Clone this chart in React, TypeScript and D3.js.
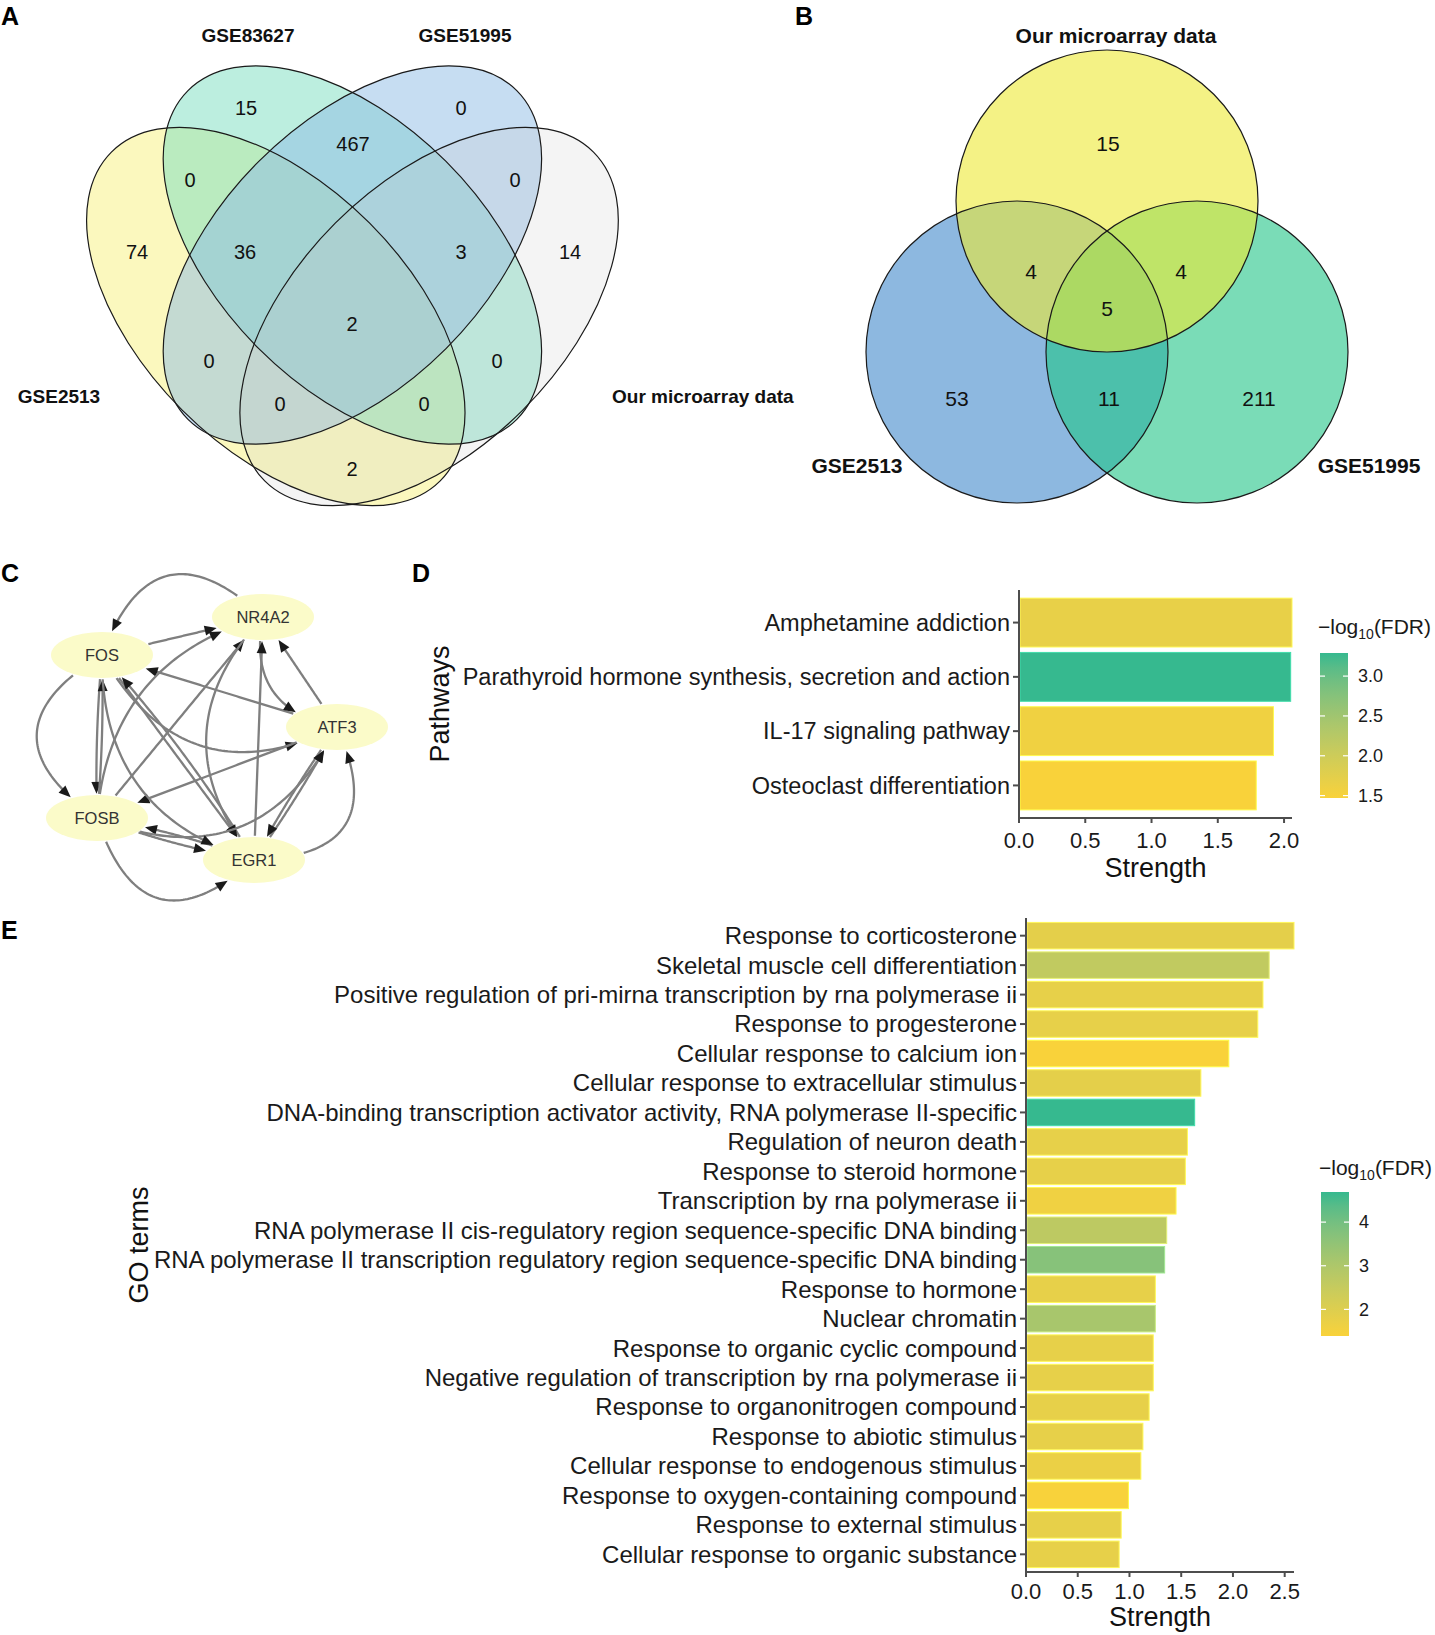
import { useRef, useEffect } from 'react';
import * as d3 from 'd3';

const FONT = "'Liberation Sans', Arial, sans-serif";

// ---- Panel A: four-set Venn ----
const vennASets = ['GSE2513', 'GSE83627', 'GSE51995', 'Our microarray data'];
const vennARegions = ['1000', '0100', '0010', '0001', '1100', '0110', '0011', '1110', '0111', '1111', '1010', '0101', '1011', '1101', '1001'];
const vennACounts = [74, 15, 0, 14, 0, 467, 0, 36, 3, 2, 0, 0, 0, 0, 2];

// ---- Panel B: three-set Venn ----
const vennBSets = ['Our microarray data', 'GSE2513', 'GSE51995'];
const vennBRegions = ['100', '110', '101', '111', '010', '011', '001'];
const vennBCounts = [15, 4, 4, 5, 53, 11, 211];

// ---- Panel C: regulatory network ----
const geneNodes = ['NR4A2', 'FOS', 'ATF3', 'FOSB', 'EGR1'];
const geneEdges: [string, string][] = [
  ['NR4A2', 'FOS'], ['FOS', 'NR4A2'], ['FOS', 'FOSB'], ['FOS', 'FOSB'], ['FOSB', 'FOS'],
  ['ATF3', 'FOS'], ['ATF3', 'NR4A2'], ['NR4A2', 'ATF3'], ['EGR1', 'NR4A2'], ['FOSB', 'NR4A2'],
  ['FOSB', 'NR4A2'], ['FOS', 'ATF3'], ['ATF3', 'FOSB'], ['FOS', 'EGR1'], ['EGR1', 'FOS'],
  ['NR4A2', 'EGR1'], ['EGR1', 'ATF3'], ['ATF3', 'EGR1'], ['EGR1', 'ATF3'], ['FOSB', 'EGR1'],
  ['EGR1', 'FOSB'], ['FOSB', 'EGR1'], ['FOSB', 'ATF3'], ['FOS', 'EGR1'],
];

// ---- Panel D: pathways ----
const pathwayTerms = [
  'Amphetamine addiction',
  'Parathyroid hormone synthesis, secretion and action',
  'IL-17 signaling pathway',
  'Osteoclast differentiation',
];
const pathwayStrength = [2.06, 2.05, 1.92, 1.79];
const pathwayFdr = [1.68, 3.29, 1.58, 1.47];
const pathwayTicks = [0, 0.5, 1, 1.5, 2];
const pathwayLegendTicks = [1.5, 2, 2.5, 3];

// ---- Panel E: GO terms ----
const goTerms = [
  'Response to corticosterone',
  'Skeletal muscle cell differentiation',
  'Positive regulation of pri-mirna transcription by rna polymerase ii',
  'Response to progesterone',
  'Cellular response to calcium ion',
  'Cellular response to extracellular stimulus',
  'DNA-binding transcription activator activity, RNA polymerase II-specific',
  'Regulation of neuron death',
  'Response to steroid hormone',
  'Transcription by rna polymerase ii',
  'RNA polymerase II cis-regulatory region sequence-specific DNA binding',
  'RNA polymerase II transcription regulatory region sequence-specific DNA binding',
  'Response to hormone',
  'Nuclear chromatin',
  'Response to organic cyclic compound',
  'Negative regulation of transcription by rna polymerase ii',
  'Response to organonitrogen compound',
  'Response to abiotic stimulus',
  'Cellular response to endogenous stimulus',
  'Response to oxygen-containing compound',
  'Response to external stimulus',
  'Cellular response to organic substance',
];
const goStrength = [2.59, 2.35, 2.29, 2.24, 1.96, 1.69, 1.63, 1.56, 1.54, 1.45, 1.36, 1.34, 1.25, 1.25, 1.23, 1.23, 1.19, 1.13, 1.11, 0.99, 0.92, 0.9];
const goFdr = [1.85, 2.6, 1.8, 1.8, 1.39, 1.85, 4.69, 1.8, 1.8, 1.6, 2.7, 3.7, 1.8, 3.1, 1.8, 1.8, 1.8, 1.8, 1.7, 1.42, 1.8, 1.8];
const goTicks = [0, 0.5, 1, 1.5, 2, 2.5];
const goLegendTicks = [2, 3, 4];

// layout (pixels)
const vennALayout = {
  rx: 232.5,
  ry: 132.4,
  shapes: [
    { cx: 275.8, cy: 316.5, rot: 45, fill: '#F7F17D', op: 0.5 },
    { cx: 352.4, cy: 255, rot: 45, fill: '#79DDBF', op: 0.5 },
    { cx: 352.4, cy: 255, rot: -45, fill: '#8DBBE5', op: 0.5 },
    { cx: 429.1, cy: 316.5, rot: -45, fill: '#C8C8C8', op: 0.2 },
  ],
  setLabels: [
    { x: 59, y: 403, anchor: 'middle' },
    { x: 248, y: 42, anchor: 'middle' },
    { x: 465, y: 42, anchor: 'middle' },
    { x: 612, y: 403, anchor: 'start' },
  ],
  counts: {
    '1000': [137, 252], '0100': [246, 108], '0010': [461, 108], '0001': [570, 252],
    '1100': [190, 180], '0110': [353, 144], '0011': [515, 180], '1110': [245, 252],
    '0111': [461, 252], '1111': [352, 324], '1010': [209, 361], '0101': [497, 361],
    '1011': [280, 404], '1101': [424, 404], '1001': [352, 469],
  } as Record<string, number[]>,
};

const vennBLayout = {
  r: 151,
  shapes: [
    { cx: 1107, cy: 201, fill: '#EDE934' },
    { cx: 1017, cy: 352, fill: '#4189CB' },
    { cx: 1197, cy: 352, fill: '#21C587' },
  ],
  drawOrder: [1, 2, 0],
  setLabels: [
    { x: 1116, y: 43 },
    { x: 857, y: 473 },
    { x: 1369, y: 473 },
  ],
  counts: {
    '100': [1108, 143], '110': [1031, 271], '101': [1181, 271], '111': [1107, 308],
    '010': [957, 398], '011': [1109, 398], '001': [1259, 398],
  } as Record<string, number[]>,
};

const nodePos: Record<string, number[]> = {
  NR4A2: [263, 617], FOS: [102, 655], ATF3: [337, 727], FOSB: [97, 818], EGR1: [254, 860],
};
const edgeBend = [0.75, 0, 0.77, 0.03, 0.03, 0, 0, 0.5, 0, 0, -0.35, 0.47, 0, 0, 0.05, 0.43, 0.03, 0.03, 0.75, 0.05, 0.05, 0.76, 0.46, 0.38];

const LOW = '#F9D23A';
const HIGH = '#36B98F';

type G = d3.Selection<SVGGElement, unknown, null, undefined>;

function panelLetter(g: G, letter: string, x: number, y: number) {
  g.append('text').attr('x', x).attr('y', y).attr('font-family', FONT)
    .attr('font-size', 25).attr('font-weight', 700).attr('fill', '#000').text(letter);
}

function drawVennA(g: G) {
  const L = vennALayout;
  L.shapes.forEach((s) => {
    g.append('ellipse').attr('cx', 0).attr('cy', 0).attr('rx', L.rx).attr('ry', L.ry)
      .attr('transform', `translate(${s.cx},${s.cy}) rotate(${s.rot})`)
      .attr('fill', s.fill).attr('fill-opacity', s.op).attr('stroke', 'none');
  });
  L.shapes.forEach((s) => {
    g.append('ellipse').attr('cx', 0).attr('cy', 0).attr('rx', L.rx).attr('ry', L.ry)
      .attr('transform', `translate(${s.cx},${s.cy}) rotate(${s.rot})`)
      .attr('fill', 'none').attr('stroke', '#1a1a1a').attr('stroke-width', 1.2);
  });
  vennASets.forEach((name, i) => {
    const p = L.setLabels[i];
    g.append('text').attr('x', p.x).attr('y', p.y).attr('text-anchor', p.anchor)
      .attr('font-family', FONT).attr('font-size', 19).attr('font-weight', 700)
      .attr('fill', '#111').text(name);
  });
  vennARegions.forEach((key, i) => {
    const [x, y] = L.counts[key];
    g.append('text').attr('x', x).attr('y', y).attr('dy', '0.36em').attr('text-anchor', 'middle')
      .attr('font-family', FONT).attr('font-size', 20).attr('fill', '#111').text(vennACounts[i]);
  });
}

function drawVennB(g: G) {
  const L = vennBLayout;
  L.drawOrder.forEach((i) => {
    const s = L.shapes[i];
    g.append('circle').attr('cx', s.cx).attr('cy', s.cy).attr('r', L.r)
      .attr('fill', s.fill).attr('fill-opacity', 0.6);
  });
  L.shapes.forEach((s) => {
    g.append('circle').attr('cx', s.cx).attr('cy', s.cy).attr('r', L.r)
      .attr('fill', 'none').attr('stroke', '#1a1a1a').attr('stroke-width', 1.2);
  });
  vennBSets.forEach((name, i) => {
    const p = L.setLabels[i];
    g.append('text').attr('x', p.x).attr('y', p.y).attr('text-anchor', 'middle')
      .attr('font-family', FONT).attr('font-size', 21).attr('font-weight', 700)
      .attr('fill', '#111').text(name);
  });
  vennBRegions.forEach((key, i) => {
    const [x, y] = L.counts[key];
    g.append('text').attr('x', x).attr('y', y).attr('dy', '0.36em').attr('text-anchor', 'middle')
      .attr('font-family', FONT).attr('font-size', 21).attr('fill', '#111').text(vennBCounts[i]);
  });
}

function drawNetwork(g: G) {
  const rx = 51;
  const ry = 23;
  const inside = (p: number[], c: number[], pad: number) =>
    ((p[0] - c[0]) / (rx + pad)) ** 2 + ((p[1] - c[1]) / (ry + pad)) ** 2 < 1;

  const line = d3.line<number[]>().x((d) => d[0]).y((d) => d[1]);
  const edgeLayer = g.append('g');

  geneEdges.forEach(([s, t], i) => {
    const p0 = nodePos[s];
    const p2 = nodePos[t];
    const dx = p2[0] - p0[0];
    const dy = p2[1] - p0[1];
    const len = Math.hypot(dx, dy);
    const b = edgeBend[i] ?? 0;
    const c = [(p0[0] + p2[0]) / 2 - (dy / len) * b * len, (p0[1] + p2[1]) / 2 + (dx / len) * b * len];
    const at = (u: number) => [
      (1 - u) ** 2 * p0[0] + 2 * (1 - u) * u * c[0] + u * u * p2[0],
      (1 - u) ** 2 * p0[1] + 2 * (1 - u) * u * c[1] + u * u * p2[1],
    ];
    let t0 = 0;
    while (t0 < 1 && inside(at(t0), p0, 1)) t0 += 0.002;
    let t1 = 1;
    while (t1 > 0 && inside(at(t1), p2, 1)) t1 -= 0.002;
    const tip = at(t1);
    const prev = at(t1 - 0.02);
    const ux = tip[0] - prev[0];
    const uy = tip[1] - prev[1];
    const ul = Math.hypot(ux, uy) || 1;
    const dirx = ux / ul;
    const diry = uy / ul;
    const alen = 12;
    const aw = 5;
    // stop the line inside the arrowhead
    const pts: number[][] = [];
    const n = 60;
    for (let k = 0; k <= n; k++) {
      const p = at(t0 + ((t1 - t0) * k) / n);
      if (Math.hypot(p[0] - tip[0], p[1] - tip[1]) < alen - 3) break;
      pts.push(p);
    }
    edgeLayer.append('path').attr('d', line(pts)).attr('fill', 'none')
      .attr('stroke', '#7f7f7f').attr('stroke-width', 2.3);
    const base = [tip[0] - dirx * alen, tip[1] - diry * alen];
    edgeLayer.append('path')
      .attr('d', `M${tip[0]},${tip[1]}L${base[0] - diry * aw},${base[1] + dirx * aw}L${base[0] + diry * aw},${base[1] - dirx * aw}Z`)
      .attr('fill', '#1a1a1a');
  });

  geneNodes.forEach((name) => {
    const [x, y] = nodePos[name];
    g.append('ellipse').attr('cx', x).attr('cy', y).attr('rx', rx).attr('ry', ry).attr('fill', '#FBFBC9');
    g.append('text').attr('x', x).attr('y', y).attr('dy', '0.36em').attr('text-anchor', 'middle')
      .attr('font-family', FONT).attr('font-size', 16.5).attr('fill', '#333').text(name);
  });
}

interface BarOpts {
  id: string;
  terms: string[];
  values: number[];
  fdr: number[];
  ticks: number[];
  legendTicks: number[];
  legendFmt: (v: number) => string;
  x0: number;
  x1: number;
  y0: number;
  y1: number;
  labelSize: number;
  tickSize: number;
  tickBaseline: number;
  titleBaseline: number;
  yTitle: string;
  yTitleX: number;
  legend: { x: number; y0: number; y1: number; titleY: number };
}

function drawBars(g: G, o: BarOpts) {
  const x = d3.scaleLinear().domain([0, d3.max(o.values)!]).range([o.x0, o.x1]);
  const y = d3.scaleBand<string>().domain(o.terms).range([o.y0, o.y1]).paddingInner(0.1).paddingOuter(0.15);
  const fdrExtent = d3.extent(o.fdr) as [number, number];
  const color = d3.scaleLinear<string>().domain(fdrExtent).range([LOW, HIGH]).interpolate(d3.interpolateLab);
  const axisColor = '#4d4d4d';

  // bars
  o.terms.forEach((term, i) => {
    const fill = color(o.fdr[i]);
    g.append('rect').attr('x', x(0) + 1).attr('y', y(term)!)
      .attr('width', x(o.values[i]) - x(0) - 1).attr('height', y.bandwidth())
      .attr('fill', fill).attr('stroke', d3.color(fill)!.brighter(0.5).formatHex()).attr('stroke-width', 1);
  });

  // y axis
  g.append('line').attr('x1', o.x0).attr('x2', o.x0).attr('y1', o.y0).attr('y2', o.y1)
    .attr('stroke', axisColor).attr('stroke-width', 2);
  o.terms.forEach((term) => {
    const cy = y(term)! + y.bandwidth() / 2;
    g.append('line').attr('x1', o.x0 - 6).attr('x2', o.x0).attr('y1', cy).attr('y2', cy)
      .attr('stroke', axisColor).attr('stroke-width', 2);
    g.append('text').attr('x', o.x0 - 9).attr('y', cy).attr('dy', '0.35em').attr('text-anchor', 'end')
      .attr('font-family', FONT).attr('font-size', o.labelSize).attr('fill', '#1a1a1a').text(term);
  });

  // x axis
  g.append('line').attr('x1', o.x0).attr('x2', o.x1).attr('y1', o.y1).attr('y2', o.y1)
    .attr('stroke', axisColor).attr('stroke-width', 2);
  o.ticks.forEach((t) => {
    g.append('line').attr('x1', x(t)).attr('x2', x(t)).attr('y1', o.y1).attr('y2', o.y1 + 5)
      .attr('stroke', axisColor).attr('stroke-width', 2);
    g.append('text').attr('x', x(t)).attr('y', o.tickBaseline).attr('text-anchor', 'middle')
      .attr('font-family', FONT).attr('font-size', o.tickSize).attr('fill', '#1a1a1a').text(d3.format('.1f')(t));
  });
  g.append('text').attr('x', (o.x0 + o.x1) / 2).attr('y', o.titleBaseline).attr('text-anchor', 'middle')
    .attr('font-family', FONT).attr('font-size', 27).attr('fill', '#111').text('Strength');

  // y title
  const midY = (o.y0 + o.y1) / 2;
  g.append('text').attr('transform', `translate(${o.yTitleX},${midY}) rotate(-90)`).attr('dy', '0.35em')
    .attr('text-anchor', 'middle').attr('font-family', FONT).attr('font-size', 27).attr('fill', '#111')
    .text(o.yTitle);

  // colour bar legend
  const L = o.legend;
  const lw = 28;
  const ly = d3.scaleLinear().domain(fdrExtent).range([L.y1, L.y0]);
  const grad = g.append('defs').append('linearGradient').attr('id', o.id)
    .attr('x1', 0).attr('y1', 1).attr('x2', 0).attr('y2', 0);
  d3.range(0, 1.0001, 0.1).forEach((s) => {
    grad.append('stop').attr('offset', s)
      .attr('stop-color', color(fdrExtent[0] + s * (fdrExtent[1] - fdrExtent[0])));
  });
  g.append('rect').attr('x', L.x).attr('y', L.y0).attr('width', lw).attr('height', L.y1 - L.y0)
    .attr('fill', `url(#${o.id})`);
  o.legendTicks.forEach((t) => {
    const ty = ly(t);
    g.append('line').attr('x1', L.x).attr('x2', L.x + 5).attr('y1', ty).attr('y2', ty)
      .attr('stroke', '#fff').attr('stroke-width', 1.2);
    g.append('line').attr('x1', L.x + lw - 5).attr('x2', L.x + lw).attr('y1', ty).attr('y2', ty)
      .attr('stroke', '#fff').attr('stroke-width', 1.2);
    g.append('text').attr('x', L.x + lw + 10).attr('y', ty).attr('dy', '0.35em')
      .attr('font-family', FONT).attr('font-size', 18).attr('fill', '#1a1a1a').text(o.legendFmt(t));
  });
  const title = g.append('text').attr('x', L.x - 2).attr('y', L.titleY)
    .attr('font-family', FONT).attr('font-size', 21).attr('fill', '#1a1a1a');
  title.append('tspan').text('\u2212log');
  title.append('tspan').attr('font-size', 14).attr('dy', 5).text('10');
  title.append('tspan').attr('dy', -5).text('(FDR)');
}

export default function App() {
  const svgRef = useRef<SVGSVGElement>(null);

  useEffect(() => {
    const svg = d3.select(svgRef.current);
    svg.selectAll('*').remove();
    const root = svg.append('g') as unknown as G;

    panelLetter(root, 'A', 1, 25);
    panelLetter(root, 'B', 795, 25);
    panelLetter(root, 'C', 1, 582);
    panelLetter(root, 'D', 412, 582);
    panelLetter(root, 'E', 1, 939);

    drawVennA(root.append('g'));
    drawVennB(root.append('g'));
    drawNetwork(root.append('g'));

    drawBars(root.append('g'), {
      id: 'grad-d',
      terms: pathwayTerms,
      values: pathwayStrength,
      fdr: pathwayFdr,
      ticks: pathwayTicks,
      legendTicks: pathwayLegendTicks,
      legendFmt: d3.format('.1f'),
      x0: 1019,
      x1: 1292,
      y0: 590,
      y1: 818,
      labelSize: 23.5,
      tickSize: 22,
      tickBaseline: 848,
      titleBaseline: 877,
      yTitle: 'Pathways',
      yTitleX: 440,
      legend: { x: 1320, y0: 653, y1: 798, titleY: 634 },
    });

    drawBars(root.append('g'), {
      id: 'grad-e',
      terms: goTerms,
      values: goStrength,
      fdr: goFdr,
      ticks: goTicks,
      legendTicks: goLegendTicks,
      legendFmt: d3.format('d'),
      x0: 1026,
      x1: 1294,
      y0: 918,
      y1: 1572,
      labelSize: 24,
      tickSize: 22,
      tickBaseline: 1599,
      titleBaseline: 1626,
      yTitle: 'GO terms',
      yTitleX: 139,
      legend: { x: 1321, y0: 1192, y1: 1336, titleY: 1175 },
    });
  }, []);

  return (
    <div style={{ position: 'absolute', left: 0, top: 0, background: '#fff' }}>
      <svg ref={svgRef} width={1435} height={1635} style={{ display: 'block' }} />
    </div>
  );
}
